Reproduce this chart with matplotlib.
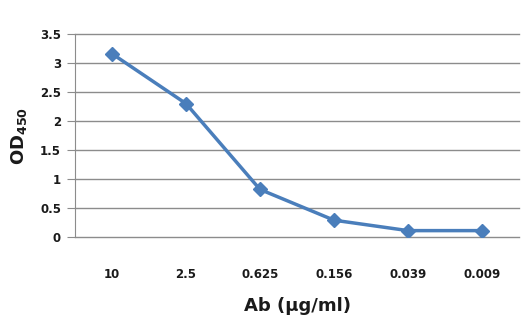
import matplotlib
matplotlib.use("Agg")
import matplotlib.pyplot as plt

# ELISA titration: antibody dilution vs OD450
concentrations = ["10", "2.5", "0.625", "0.156", "0.039", "0.009"]
od450 = [3.16, 2.30, 0.82, 0.29, 0.11, 0.11]
yticks = [0, 0.5, 1, 1.5, 2, 2.5, 3, 3.5]
ytick_labels = ["0", "0.5", "1", "1.5", "2", "2.5", "3", "3.5"]

plt.rcParams["font.family"] = ["DejaVu Sans"]
plt.rcParams["mathtext.fontset"] = "dejavusans"

fig = plt.figure(figsize=(5.29, 3.36), dpi=100)
ax = fig.add_axes([75 / 529, 99 / 336, 444 / 529, 203 / 336])

x = range(len(concentrations))
ax.plot(x, od450, color="#4A7EBB", linewidth=2.5, marker="D", markersize=7,
        markeredgecolor="#4A7EBB", markerfacecolor="#4A7EBB", zorder=3)

ax.set_xlim(-0.5, len(concentrations) - 0.5)
ax.set_ylim(0, 3.5)
ax.set_yticks(yticks)
ax.set_yticklabels(ytick_labels, fontsize=8.5, fontweight="bold", color="#1A1A1A")
ax.set_xticks(list(x))
ax.set_xticklabels(concentrations, fontsize=8.5, fontweight="bold", color="#1A1A1A")

ax.grid(axis="y", color="#8C8C8C", linewidth=1)
# keep the gridlines at the plot edges fully visible
for gl in ax.get_ygridlines():
    gl.set_clip_on(False)
ax.set_axisbelow(True)
for side in ["top", "right", "bottom"]:
    ax.spines[side].set_visible(False)
ax.spines["left"].set_color("#8C8C8C")
ax.tick_params(axis="y", length=6, color="#8C8C8C", pad=4)
ax.tick_params(axis="x", length=0, pad=22)

ax.set_xlabel("Ab (µg/ml)", fontsize=13, fontweight="bold", labelpad=12, color="#1A1A1A")
ax.set_ylabel("OD$_{\\mathbf{450}}$", fontsize=13, fontweight="bold", labelpad=8, color="#1A1A1A")

fig.savefig("out.png", dpi=100)
